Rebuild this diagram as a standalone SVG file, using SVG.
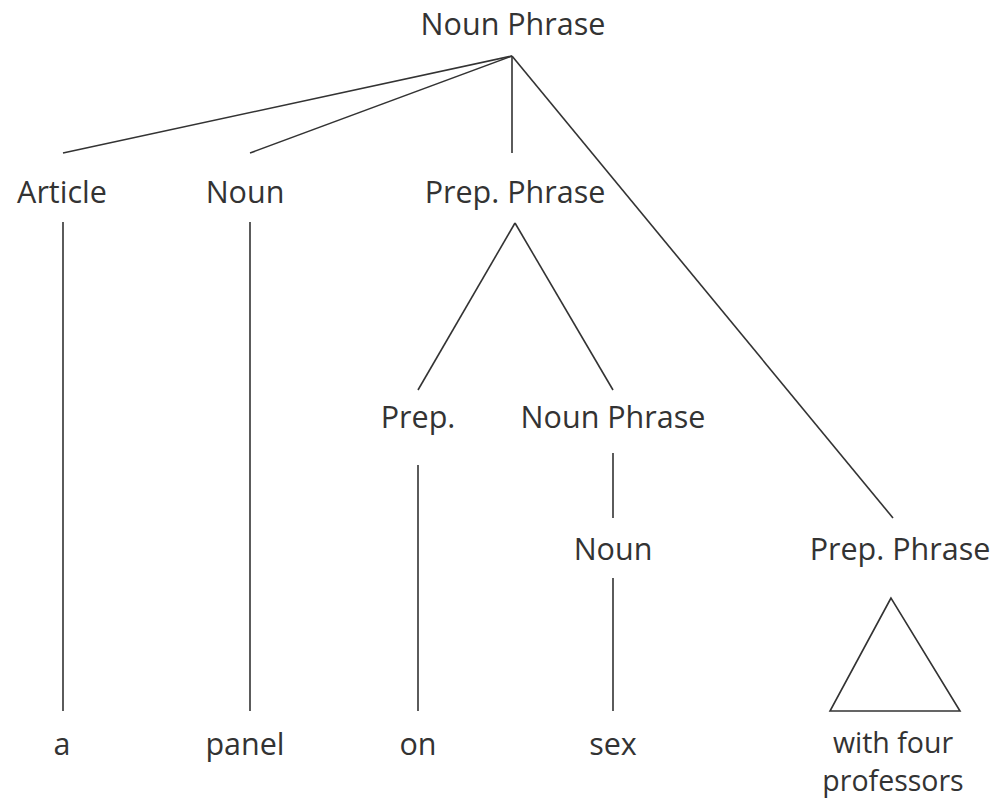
<svg xmlns="http://www.w3.org/2000/svg" width="992" height="805" viewBox="0 0 992 805">
<style>
text{font-family:"Open Sans","Noto Sans",sans-serif;font-size:30.5px;fill:#333;text-anchor:middle}
.s{font-size:28.5px}
.c line,.c polygon{stroke:#333;stroke-width:1.6;fill:none}
</style>
<rect width="992" height="805" fill="#fff"/>
<g class="c" id="connectors">
<line x1="512" y1="56" x2="63" y2="153"/>
<line x1="512" y1="56" x2="250" y2="153"/>
<line x1="512" y1="56" x2="512" y2="153"/>
<line x1="512" y1="56" x2="893" y2="518"/>
<line x1="63" y1="222" x2="63" y2="711"/>
<line x1="250" y1="222" x2="250" y2="711"/>
<line x1="515" y1="223" x2="418" y2="390"/>
<line x1="515" y1="223" x2="613" y2="390"/>
<line x1="418" y1="465" x2="418" y2="711"/>
<line x1="613" y1="453" x2="613" y2="518"/>
<line x1="613" y1="578" x2="613" y2="711"/>
<polygon points="891,598 830,711 960,711"/>
</g>
<g id="np1"><text x="513" y="35">Noun Phrase</text></g>
<g id="article"><text x="62" y="203">Article</text></g>
<g id="noun1"><text x="245" y="203">Noun</text></g>
<g id="pp1"><text x="515" y="203">Prep. Phrase</text></g>
<g id="prep"><text x="418" y="428">Prep.</text></g>
<g id="np2"><text x="613" y="428">Noun Phrase</text></g>
<g id="noun2"><text x="613" y="560">Noun</text></g>
<g id="pp2"><text x="900" y="560">Prep. Phrase</text></g>
<g id="a"><text x="62" y="755">a</text></g>
<g id="panel"><text x="245" y="755">panel</text></g>
<g id="on"><text x="418" y="755">on</text></g>
<g id="sex"><text x="613" y="755">sex</text></g>
<g id="wfp"><text class="s" x="893" y="753">with four</text><text class="s" x="893" y="791">professors</text></g>
</svg>
